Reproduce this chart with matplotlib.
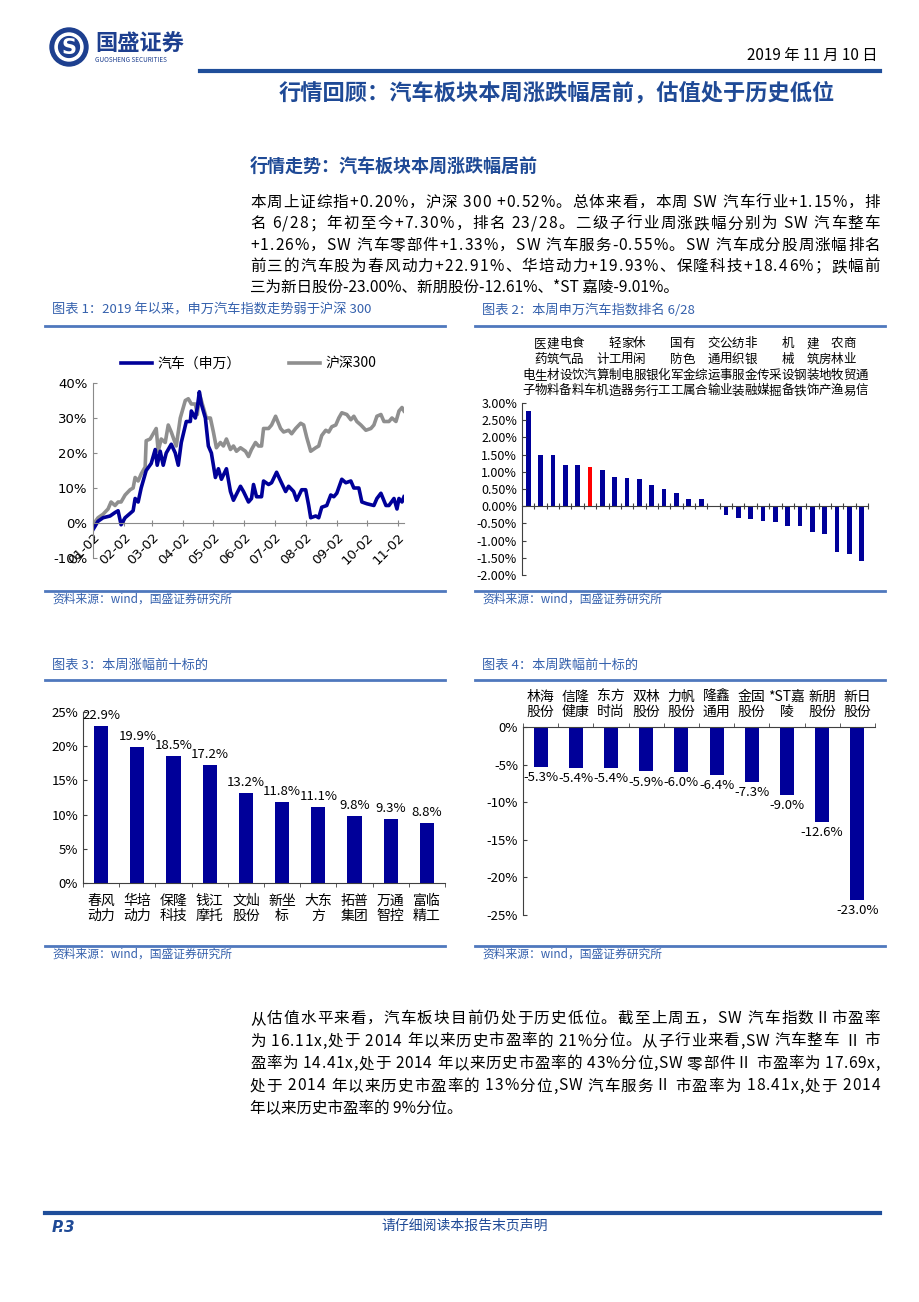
import pandas as pd
import matplotlib
matplotlib.use('Agg')
import matplotlib.pyplot as plt
import matplotlib.transforms as mtransforms
from matplotlib.lines import Line2D
from matplotlib.patches import Circle
from matplotlib.font_manager import FontProperties

plt.rcParams['font.family'] = ['Noto Sans CJK SC', 'DejaVu Sans']
plt.rcParams['axes.unicode_minus'] = False

# ---- data ----
# chart 1: index performance since 2019-01-02 (%)
auto_dates = ['01-02', '01-07', '01-12', '01-19', '01-24', '01-27', '01-30', '02-03', '02-11',
              '02-13', '02-16', '02-19', '02-24', '03-01', '03-05', '03-07', '03-10', '03-13',
              '03-16', '03-21', '03-25', '03-28', '03-31', '04-05', '04-09', '04-10', '04-14',
              '04-16', '04-18', '04-20', '04-24', '04-27', '04-30', '05-04', '05-07', '05-10',
              '05-15', '05-19', '05-22', '05-29', '06-01', '06-06', '06-09', '06-11', '06-14',
              '06-19', '06-21', '06-26', '06-29', '07-04', '07-08', '07-13', '07-16', '07-21',
              '07-24', '07-29', '08-02', '08-05', '08-07', '08-12', '08-15', '08-18', '08-23',
              '08-27', '08-30', '09-02', '09-07', '09-11', '09-16', '09-19', '09-24', '09-27',
              '10-02', '10-09', '10-12', '10-16', '10-21', '10-24', '10-29', '11-01', '11-03',
              '11-06', '11-08']
auto_vals = [-1.9, 0.5, 1.5, 2.0, 3.0, 3.5, -0.5, 1.5, 3.5,
             7.0, 6.0, 10.0, 15.0, 17.0, 21.0, 16.5, 20.5, 16.5,
             20.0, 22.5, 20.0, 16.5, 23.0, 29.0, 29.0, 32.0, 30.0,
             33.0, 37.5, 34.0, 30.0, 22.0, 20.0, 13.0, 15.5, 12.5,
             15.5, 9.0, 6.5, 10.5, 9.0, 6.0, 7.0, 11.0, 7.5,
             7.5, 12.0, 11.0, 11.5, 14.5, 12.0, 9.0, 10.5, 9.0,
             6.5, 9.5, 9.5, 5.0, 1.5, 2.0, 1.5, 4.5, 5.0,
             8.0, 7.5, 8.5, 12.5, 11.5, 12.0, 10.0, 10.0, 6.0,
             5.5, 5.0, 7.0, 8.5, 5.0, 5.0, 7.0, 4.0, 7.0,
             6.0, 7.5]
hs_dates = ['01-02', '01-07', '01-12', '01-17', '01-20', '01-24', '01-27', '01-30', '02-03',
            '02-08', '02-11', '02-13', '02-16', '02-19', '02-23', '02-24', '02-28', '03-03',
            '03-06', '03-08', '03-11', '03-15', '03-18', '03-21', '03-26', '03-30', '04-04',
            '04-07', '04-10', '04-14', '04-16', '04-18', '04-22', '04-25', '04-29', '05-02',
            '05-05', '05-09', '05-12', '05-15', '05-19', '05-22', '05-25', '05-29', '06-03',
            '06-06', '06-09', '06-13', '06-16', '06-19', '06-21', '06-26', '06-29', '07-03',
            '07-08', '07-11', '07-16', '07-19', '07-23', '07-28', '07-31', '08-03', '08-07',
            '08-12', '08-15', '08-18', '08-22', '08-25', '08-28', '09-01', '09-04', '09-07',
            '09-12', '09-16', '09-19', '09-22', '09-26', '10-01', '10-06', '10-09', '10-12',
            '10-16', '10-19', '10-24', '10-27', '10-31', '11-03', '11-06', '11-08']
hs_vals = [-0.5, 1.5, 2.5, 4.0, 6.0, 5.0, 6.0, 6.0, 8.0,
           9.5, 10.0, 13.0, 12.0, 14.0, 16.0, 23.5, 24.0, 25.5,
           27.0, 20.5, 24.0, 23.0, 28.0, 26.0, 22.0, 30.0, 35.0,
           35.5, 34.0, 34.0, 31.0, 37.0, 33.0, 30.0, 30.0, 26.0,
           21.5, 23.0, 22.0, 24.0, 21.0, 22.0, 20.5, 21.5, 20.5,
           19.0, 21.0, 23.0, 22.0, 22.0, 27.0, 27.0, 28.0, 30.5,
           27.0, 26.0, 26.5, 25.5, 27.0, 28.5, 28.0, 24.5, 20.5,
           21.5, 22.0, 25.0, 26.5, 26.0, 27.5, 28.0, 30.0, 31.5,
           31.0, 29.5, 30.5, 29.0, 28.0, 26.5, 27.0, 28.0, 30.5,
           31.0, 29.0, 29.0, 30.0, 29.0, 32.0, 33.0, 32.0]
month_ticks = ['01-02', '02-02', '03-02', '04-02', '05-02', '06-02', '07-02', '08-02',
               '09-02', '10-02', '11-02']

# chart 2: weekly change of SW level-1 industries (%)
industries = ['电子', '医药生物', '建筑材料', '电气设备', '食品饮料', '汽车', '计算机', '轻工制造',
              '家用电器', '休闲服务', '银行', '化工', '国防军工', '有色金属', '综合', '交通运输',
              '公用事业', '纺织服装', '非银金融', '传媒', '采掘', '机械设备', '钢铁', '建筑装饰',
              '房地产', '农林牧渔', '商业贸易', '通信']
ind_chg = [2.77, 1.50, 1.49, 1.21, 1.21, 1.15, 1.05, 0.84, 0.82, 0.78, 0.61, 0.50, 0.37, 0.21,
           0.21, -0.03, -0.26, -0.34, -0.36, -0.44, -0.47, -0.57, -0.57, -0.74, -0.81, -1.34,
           -1.38, -1.58]

# chart 3 / 4: top gainers and losers (%)
gain_names = ['春风\n动力', '华培\n动力', '保隆\n科技', '钱江\n摩托', '文灿\n股份', '新坐\n标',
              '大东\n方', '拓普\n集团', '万通\n智控', '富临\n精工']
gain_vals = [22.9, 19.9, 18.5, 17.2, 13.2, 11.8, 11.1, 9.8, 9.3, 8.8]
loss_names = ['林海\n股份', '信隆\n健康', '东方\n时尚', '双林\n股份', '力帆\n股份', '隆鑫\n通用',
              '金固\n股份', '*ST嘉\n陵', '新朋\n股份', '新日\n股份']
loss_vals = [-5.3, -5.4, -5.4, -5.9, -6.0, -6.4, -7.3, -9.0, -12.6, -23.0]

para1 = ['本周上证综指+0.20%，沪深 300 +0.52%。总体来看，本周 SW 汽车行业+1.15%，排',
         '名 6/28；年初至今+7.30%，排名 23/28。二级子行业周涨跌幅分别为 SW 汽车整车',
         '+1.26%，SW 汽车零部件+1.33%，SW 汽车服务-0.55%。SW 汽车成分股周涨幅排名',
         '前三的汽车股为春风动力+22.91%、华培动力+19.93%、保隆科技+18.46%；跌幅前',
         '三为新日股份-23.00%、新朋股份-12.61%、*ST 嘉陵-9.01%。']
para2 = ['从估值水平来看，汽车板块目前仍处于历史低位。截至上周五，SW 汽车指数Ⅱ市盈率',
         '为 16.11x,处于 2014 年以来历史市盈率的 21%分位。从子行业来看,SW 汽车整车 Ⅱ 市',
         '盈率为 14.41x,处于 2014 年以来历史市盈率的 43%分位,SW 零部件Ⅱ 市盈率为 17.69x,',
         '处于 2014 年以来历史市盈率的 13%分位,SW 汽车服务Ⅱ 市盈率为 18.41x,处于 2014',
         '年以来历史市盈率的 9%分位。']

# ---- page layout (pixel helpers) ----
W, H = 920, 1302
fig = plt.figure(figsize=(W / 100, H / 100), dpi=100)
renderer = fig.canvas.get_renderer()

HEAD = '#1f4a96'
CAP = '#3561ad'
BAR = '#000099'
AXC = '#404040'
BODY = 11.2


def px_axes(l, t, r, b):
    return fig.add_axes([l / W, 1 - b / H, (r - l) / W, (b - t) / H])


def ptext(x, y, s, **kw):
    return fig.text(x / W, 1 - y / H, s, **kw)


def hline(x0, x1, y, **kw):
    fig.add_artist(Line2D([x0 / W, x1 / W], [1 - y / H, 1 - y / H],
                          transform=fig.transFigure, **kw))


body_fp = FontProperties(family=['Noto Sans CJK SC', 'DejaVu Sans'], size=BODY)


def text_w(s):
    # advance width in pixels, measured with a trailing marker so spaces count
    return (renderer.get_text_width_height_descent(s + 'x', body_fp, ismath=False)[0]
            - renderer.get_text_width_height_descent('x', body_fp, ismath=False)[0])


def para(lines, x0, x1, y0, step):
    # justified paragraph, last line flush left
    for j, line in enumerate(lines):
        y = y0 + j * step + 5
        if j == len(lines) - 1:
            ptext(x0, y, line, fontsize=BODY, va='baseline')
            continue
        extra = (x1 - x0) - text_w(line)
        gap = extra / (len(line) - 1)
        for i, ch in enumerate(line):
            if ch == ' ':
                continue
            ptext(x0 + text_w(line[:i]) + i * gap, y, ch, fontsize=BODY, va='baseline')


# header: logo, date, rule, heading
logo = px_axes(48, 27, 90, 67)
logo.set_xlim(-1, 1)
logo.set_ylim(-1, 1)
logo.set_aspect('equal')
logo.axis('off')
logo.add_patch(Circle((0, 0), 0.95, color='#1d3f8f'))
logo.add_patch(Circle((0, 0), 0.70, color='white'))
logo.add_patch(Circle((0, 0), 0.52, color='#1d3f8f'))
logo.text(0, -0.04, 'S', color='white', fontsize=15, fontweight='bold',
          ha='center', va='center', family='DejaVu Sans')
ptext(95, 44, '国盛证券', fontsize=16, fontweight='bold', color='#1d3f8f', va='center')
ptext(95, 60, 'GUOSHENG SECURITIES', fontsize=4.6, color='#1d3f8f', va='center')
ptext(878, 55, '2019 年 11 月 10 日', fontsize=11, ha='right', va='center')
hline(200, 880, 71, color='#1f4e9a', lw=3)
ptext(835, 93, '行情回顾：汽车板块本周涨跌幅居前，估值处于历史低位', fontsize=16,
      fontweight='bold', color=HEAD, ha='right', va='center')
ptext(250, 166, '行情走势：汽车板块本周涨跌幅居前', fontsize=13, fontweight='bold',
      color=HEAD, va='center')
para(para1, 250, 880, 202, 21.3)
para(para2, 250, 880, 1018, 22.5)

# chart captions and source lines
captions = [(45, 445, 310, 326, 591, '图表 1：2019 年以来，申万汽车指数走势弱于沪深 300'),
            (475, 885, 310, 326, 591, '图表 2：本周申万汽车指数排名 6/28'),
            (45, 445, 665, 680, 946, '图表 3：本周涨幅前十标的'),
            (475, 885, 665, 680, 946, '图表 4：本周跌幅前十标的')]
for x0, x1, yt, yl, yb, title in captions:
    ptext(x0 + 7, yt, title, fontsize=9.5, style='italic', color=CAP, va='center')
    hline(x0, x1, yl, color='#4f78bd', lw=2)
    hline(x0, x1, yb, color='#4f78bd', lw=2)
    ptext(x0 + 7, yb + 8, '资料来源：wind，国盛证券研究所', fontsize=8.5, style='italic',
          color=CAP, va='center')

# ---- chart 1: line chart ----
ax1 = px_axes(93, 383, 404, 558)
d_auto = pd.to_datetime(['2019-' + d for d in auto_dates])
d_hs = pd.to_datetime(['2019-' + d for d in hs_dates])
l_hs, = ax1.plot(d_hs, hs_vals, color='#8f8f8f', lw=2.6)
l_auto, = ax1.plot(d_auto, auto_vals, color=BAR, lw=2.6)
ax1.set_xlim(pd.Timestamp('2019-01-02'), pd.Timestamp('2019-11-08'))
ax1.set_ylim(-10, 40)
ax1.spines['bottom'].set_position(('data', 0))
for s in ['top', 'right']:
    ax1.spines[s].set_visible(False)
for s in ['left', 'bottom']:
    ax1.spines[s].set_color('#8a8a8a')
ax1.tick_params(axis='y', direction='in', length=3, color='#8a8a8a', pad=4)
ax1.tick_params(axis='x', direction='inout', length=5, color='#8a8a8a', pad=3,
                labelrotation=45)
ax1.set_yticks(range(-10, 41, 10))
ax1.set_yticklabels([f'{v}%' for v in range(-10, 41, 10)], fontsize=9.5, family='DejaVu Sans')
ax1.set_xticks(pd.to_datetime(['2019-' + d for d in month_ticks]))
ax1.set_xticklabels(month_ticks, fontsize=9.5, family='DejaVu Sans')
for lab in ax1.get_xticklabels():
    lab.set_rotation(45)
    lab.set_ha('right')
    lab.set_rotation_mode('anchor')
ax1.legend([l_auto, l_hs], ['汽车（申万）', '沪深300'], loc='lower center',
           bbox_to_anchor=(0.5, 1.0), ncol=2, frameon=False, fontsize=10,
           handlelength=2.2, columnspacing=3.5, handletextpad=0.4)

# ---- chart 2: industry ranking ----
ax2 = px_axes(522, 403, 868, 575)
x2 = range(len(industries))
colors2 = ['#ff0000' if n == '汽车' else BAR for n in industries]
ax2.bar(x2, ind_chg, width=0.38, color=colors2)
ax2.set_xlim(-0.5, len(industries) - 0.5)
ax2.set_ylim(-2, 3)
yt2 = [-2, -1.5, -1, -0.5, 0, 0.5, 1, 1.5, 2, 2.5, 3]
ax2.set_yticks(yt2)
ax2.set_yticklabels([f'{v:.2f}%' for v in yt2], fontsize=9)
ax2.set_xticks([i + 0.5 for i in x2])
ax2.set_xticklabels([])
ax2.spines['bottom'].set_position(('data', 0))
for s in ['top', 'right']:
    ax2.spines[s].set_visible(False)
for s in ['left', 'bottom']:
    ax2.spines[s].set_color(AXC)
ax2.tick_params(axis='y', direction='in', length=3, color=AXC)
ax2.tick_params(axis='x', direction='inout', length=5, color=AXC)
trans2 = mtransforms.blended_transform_factory(ax2.transData, ax2.transAxes)
row_h = 15.7 / 172
for i, name in enumerate(industries):
    for k, ch in enumerate(reversed(name)):
        ax2.text(i, 1.07 + k * row_h, ch, transform=trans2, ha='center', va='center',
                 fontsize=9, clip_on=False)

# ---- chart 3: top gainers ----
ax3 = px_axes(83, 712, 445, 883)
x3 = range(len(gain_names))
ax3.bar(x3, gain_vals, width=0.39, color=BAR)
for i, v in zip(x3, gain_vals):
    ax3.annotate(f'{v}%', (i, v), xytext=(0, 3), textcoords='offset points',
                 ha='center', va='bottom', fontsize=9.5)
ax3.set_xlim(-0.5, len(gain_names) - 0.5)
ax3.set_ylim(0, 25)
ax3.set_yticks(range(0, 26, 5))
ax3.set_yticklabels([f'{v}%' for v in range(0, 26, 5)], fontsize=9.5)
ax3.set_xticks(list(x3))
ax3.set_xticklabels(gain_names, fontsize=10, linespacing=1.1)
ax3.set_xticks([i + 0.5 for i in range(-1, len(gain_names))], minor=True)
for s in ['top', 'right']:
    ax3.spines[s].set_visible(False)
for s in ['left', 'bottom']:
    ax3.spines[s].set_color(AXC)
ax3.tick_params(axis='y', direction='in', length=3, color=AXC)
ax3.tick_params(axis='x', which='major', length=0, pad=8)
ax3.tick_params(axis='x', which='minor', direction='out', length=3, color=AXC)

# ---- chart 4: top losers ----
ax4 = px_axes(523, 727, 875, 915)
x4 = range(len(loss_names))
ax4.bar(x4, loss_vals, width=0.4, color=BAR)
for i, v in zip(x4, loss_vals):
    ax4.annotate(f'{v}%', (i, v), xytext=(0, -3), textcoords='offset points',
                 ha='center', va='top', fontsize=9.5)
ax4.set_xlim(-0.5, len(loss_names) - 0.5)
ax4.set_ylim(-25, 0)
ax4.set_yticks(range(-25, 1, 5))
ax4.set_yticklabels([f'{v}%' for v in range(-25, 1, 5)], fontsize=9.5)
ax4.xaxis.tick_top()
ax4.set_xticks(list(x4))
ax4.set_xticklabels(loss_names, fontsize=10, linespacing=1.1)
ax4.set_xticks([i + 0.5 for i in range(-1, len(loss_names))], minor=True)
for s in ['bottom', 'right']:
    ax4.spines[s].set_visible(False)
for s in ['left', 'top']:
    ax4.spines[s].set_color(AXC)
ax4.tick_params(axis='y', direction='in', length=3, color=AXC)
ax4.tick_params(axis='x', which='major', length=0, pad=6)
ax4.tick_params(axis='x', which='minor', direction='out', length=3, color=AXC)

# footer
hline(45, 880, 1213, color='#1f4e9a', lw=3)
ptext(52, 1227, 'P.3', fontsize=11, fontweight='bold', style='italic', color=HEAD,
      va='center', family='DejaVu Sans')
ptext(465, 1226, '请仔细阅读本报告末页声明', fontsize=10, style='italic', color=HEAD,
      ha='center', va='center')

fig.savefig('out.png', dpi=100)
